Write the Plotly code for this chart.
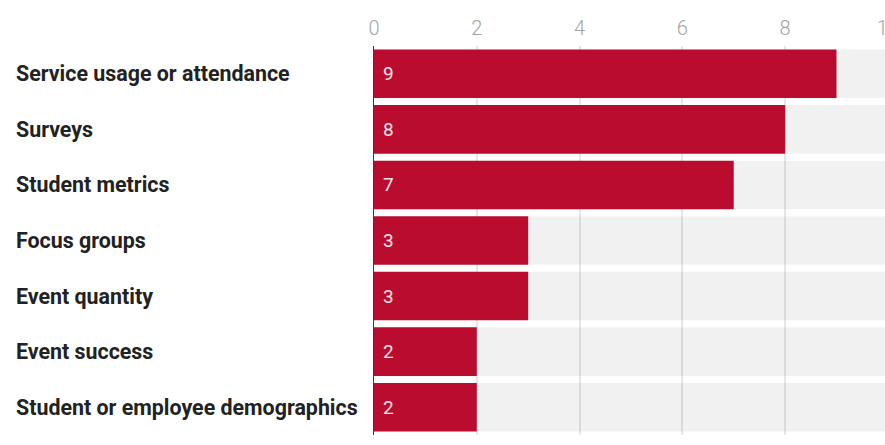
import plotly.graph_objects as go

categories = [
    "Service usage or attendance",
    "Surveys",
    "Student metrics",
    "Focus groups",
    "Event quantity",
    "Event success",
    "Student or employee demographics",
]
values = [9, 8, 7, 3, 3, 2, 2]
tick_vals = [0, 2, 4, 6, 8, 10]
axis_max = 10.08

W, H = 892, 445
ML, MR, MT, MB = 374, 0, 46, 10

fig = go.Figure()
# background track
fig.add_trace(go.Bar(
    y=categories, x=[axis_max] * len(categories), orientation="h",
    marker=dict(color="rgba(0,0,0,0.055)", line=dict(width=0)),
    hoverinfo="skip", showlegend=False,
))
fig.add_trace(go.Bar(
    y=categories, x=values, orientation="h",
    marker=dict(color="#BA0C2F", line=dict(width=0)),
    showlegend=False,
))

for c, v in zip(categories, values):
    fig.add_annotation(
        x=(14 - ML) / (W - ML - MR), xref="paper", y=c, yref="y", yshift=0,
        text=c, showarrow=False, xanchor="left", yanchor="middle",
        font=dict(family="Roboto", size=21.4, color="#222222", weight="bold"),
    )
    fig.add_annotation(
        x=0, xref="x", y=c, yref="y", xshift=7,
        text=str(v), showarrow=False, xanchor="left", yanchor="middle",
        font=dict(family="Roboto", size=19, color="#f6e4e8"),
    )

fig.update_layout(
    width=W, height=H,
    margin=dict(l=ML, r=MR, t=MT, b=MB, autoexpand=False),
    barmode="overlay", bargap=0.126,
    plot_bgcolor="white", paper_bgcolor="white",
    xaxis=dict(
        side="top", range=[0, axis_max], tickvals=tick_vals,
        showgrid=True, gridcolor="#e6e6e6", gridwidth=2,
        zeroline=False, showline=False, ticks="",
        tickfont=dict(family="Roboto", size=20, color="#a3a3a3", weight=300),
        ticklabelstandoff=6, ticklabeloverflow="allow", automargin=False,
        fixedrange=True,
    ),
    yaxis=dict(
        autorange="reversed", showticklabels=False, showgrid=False,
        zeroline=False, showline=True, linecolor="#3a3a3a", linewidth=1,
        layer="above traces", fixedrange=True, automargin=False,
    ),
)

fig.write_html(
    "out.html",
    config={"displayModeBar": False},
    post_script="document.body.style.margin='0';document.body.style.overflow='hidden';",
)
